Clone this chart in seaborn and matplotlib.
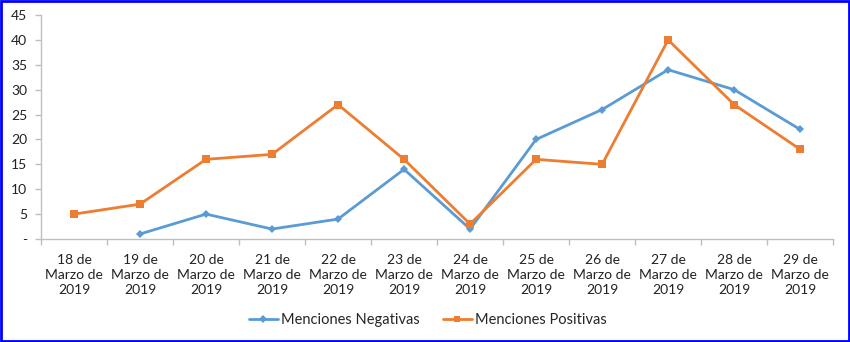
import numpy as np
import pandas as pd
import matplotlib
matplotlib.use("Agg")
import matplotlib.pyplot as plt
from matplotlib.patches import Rectangle
from matplotlib.ticker import FixedLocator
import seaborn as sns

days = ["18", "19", "20", "21", "22", "23", "24", "25", "26", "27", "28", "29"]
tick_labels = [f"{d} de\nMarzo de\n2019" for d in days]
negativas = [np.nan, 1, 5, 2, 4, 14, 2, 20, 26, 34, 30, 22]
positivas = [5, 7, 16, 17, 27, 16, 3, 16, 15, 40, 27, 18]

sns.set_theme(style="white")
plt.rcParams["font.family"] = ["Lato", "DejaVu Sans"]

df = pd.DataFrame({"idx": np.arange(len(days)),
                   "Menciones Negativas": negativas,
                   "Menciones Positivas": positivas})

fig = plt.figure(figsize=(8.5, 3.42), dpi=100)
ax = fig.add_axes([0.0482, 0.3012, 0.932, 0.655])

blue = "#5B9BD5"
orange = "#ED7D31"
sns.lineplot(data=df, x="idx", y="Menciones Negativas", ax=ax, color=blue,
             marker="D", markersize=4.5, markeredgewidth=0, linewidth=2,
             label="Menciones Negativas")
sns.lineplot(data=df, x="idx", y="Menciones Positivas", ax=ax, color=orange,
             marker="s", markersize=5.5, markeredgewidth=0, linewidth=2,
             label="Menciones Positivas")

ax.set_xlim(-0.5, len(days) - 0.5)
ax.set_ylim(0, 45)
ax.set_xlabel("")
ax.set_ylabel("")

ax.set_yticks(np.arange(0, 46, 5))
ax.set_yticklabels(["-"] + [str(v) for v in range(5, 46, 5)])
ax.set_xticks(np.arange(len(days)))
ax.set_xticklabels(tick_labels, fontsize=10, color="#222222", linespacing=1.3)
ax.xaxis.set_minor_locator(FixedLocator(np.arange(-0.5, len(days), 1)))

for s in ["top", "right"]:
    ax.spines[s].set_visible(False)
for s in ["left", "bottom"]:
    ax.spines[s].set_color("#BFBFBF")
    ax.spines[s].set_linewidth(1)

ax.tick_params(axis="y", which="major", left=True, length=4, width=1,
               color="#BFBFBF", labelsize=10, labelcolor="#222222", pad=6)
ax.tick_params(axis="x", which="major", bottom=False, labelsize=10, pad=5)
ax.tick_params(axis="x", which="minor", bottom=True, length=4, width=1,
               color="#BFBFBF")

handles, labels = ax.get_legend_handles_labels()
ax.get_legend().remove()
leg = fig.legend(handles, labels, loc="center", bbox_to_anchor=(0.503, 0.064), ncol=2,
                 frameon=False, fontsize=10.5, handlelength=2.0,
                 columnspacing=1.6, handletextpad=0.2, markerscale=0.8)

fig.patches.append(Rectangle((0.0015, 0.003), 0.997, 0.994, transform=fig.transFigure,
                             fill=False, edgecolor="#0000FF", linewidth=2))

fig.savefig("out.png", dpi=100)
